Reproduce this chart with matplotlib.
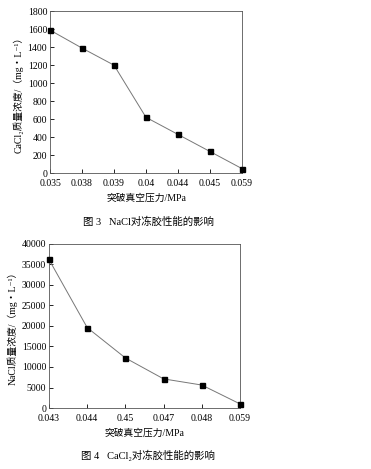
import numpy as np
import matplotlib.pyplot as plt

plt.rcParams['font.family'] = ['Liberation Serif', 'DejaVu Serif', 'Noto Sans CJK SC']

# 图3 数据
x_lab3 = ['0.035', '0.038', '0.039', '0.04', '0.044', '0.045', '0.059']
y3 = [1590, 1390, 1200, 620, 430, 240, 50]

# 图4 数据
x_lab4 = ['0.043', '0.044', '0.45', '0.047', '0.048', '0.059']
y4 = [36200, 19600, 12200, 7100, 5600, 1000]

fig = plt.figure(figsize=(3.71, 4.69), dpi=100)

ax1 = fig.add_axes([0.135, 0.631, 0.517, 0.345])
ax2 = fig.add_axes([0.132, 0.130, 0.515, 0.350])

for ax, labs, vals, ymax, ystep, ylab in [
        (ax1, x_lab3, y3, 1800, 200, 'CaCl₂质量浓度/（mg・L⁻¹）'),
        (ax2, x_lab4, y4, 40000, 5000, 'NaCl质量浓度/（mg・L⁻¹）')]:
    xs = np.arange(len(labs))
    ax.plot(xs, vals, color='#777777', lw=0.7, marker='s', ms=3.6,
            mfc='black', mec='black', clip_on=False, zorder=3)
    ax.set_xlim(0, len(labs) - 1)
    ax.set_ylim(0, ymax)
    ax.set_xticks(xs)
    ax.set_xticklabels(labs)
    ax.set_yticks(np.arange(0, ymax + 1, ystep))
    ax.tick_params(direction='in', labelsize=7, length=3, width=0.6, pad=2)
    ax.tick_params(axis='x', pad=4)
    for s in ax.spines.values():
        s.set_linewidth(0.6)
        s.set_color('#555555')
    ax.set_xlabel('突破真空压力/MPa', fontsize=7, labelpad=4)
    ax.set_ylabel(ylab, fontsize=7, labelpad=3)

fig.text(0.40, 0.527, '图 3   NaCl对冻胶性能的影响', fontsize=7.5, ha='center', va='center')
fig.text(0.40, 0.030, '图 4   CaCl₂对冻胶性能的影响', fontsize=7.5, ha='center', va='center')

fig.savefig('out.png', dpi=100, facecolor='white')
